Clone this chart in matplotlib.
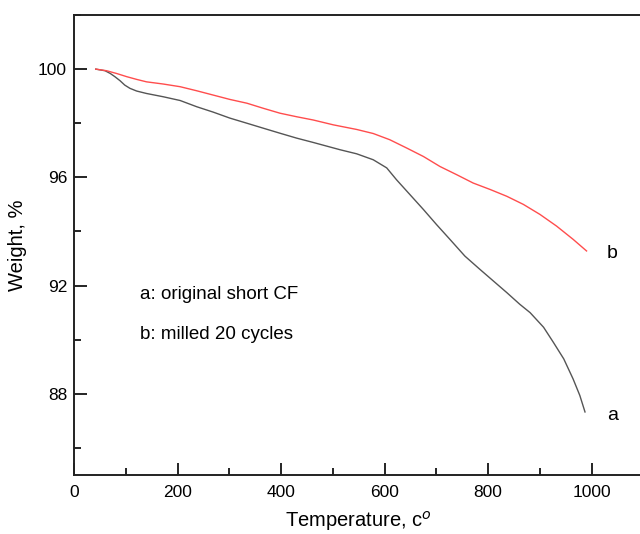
import matplotlib.pyplot as plt
from matplotlib.ticker import MultipleLocator

plt.rcParams['font.family'] = ['Liberation Sans', 'DejaVu Sans']

# curve a: original short CF
temp_a = [42, 60, 70, 79, 89, 98, 108, 121, 140, 172, 205, 237, 269, 301, 334,
          365, 398, 430, 462, 514, 546, 578, 604, 623, 649, 675, 700, 726, 755,
          784, 810, 836, 861, 881, 907, 926, 946, 964, 977, 987]
weight_a = [100.0, 99.94, 99.84, 99.72, 99.57, 99.41, 99.29, 99.19, 99.1, 98.98,
            98.84, 98.61, 98.41, 98.19, 98.0, 97.82, 97.63, 97.45, 97.29, 97.02,
            96.87, 96.65, 96.35, 95.91, 95.36, 94.81, 94.26, 93.71, 93.09, 92.6,
            92.17, 91.74, 91.31, 91.0, 90.46, 89.9, 89.29, 88.55, 87.94, 87.33]

# curve b: milled 20 cycles
temp_b = [42, 63, 82, 102, 121, 140, 172, 205, 237, 269, 301, 334, 366, 398,
          430, 462, 501, 546, 578, 610, 643, 675, 707, 739, 771, 804, 836, 868,
          900, 932, 964, 990]
weight_b = [100.0, 99.94, 99.84, 99.72, 99.62, 99.53, 99.45, 99.35, 99.2, 99.04,
            98.88, 98.74, 98.55, 98.37, 98.24, 98.12, 97.94, 97.77, 97.62, 97.39,
            97.08, 96.77, 96.4, 96.1, 95.79, 95.55, 95.3, 95.0, 94.63, 94.2,
            93.71, 93.28]

fig = plt.figure(figsize=(6.4, 5.34), dpi=100)
ax = fig.add_axes([74/640, 59/534, 569.5/640, 460/534])

ax.plot(temp_a, weight_a, color="#555555", linewidth=1.0)
ax.plot(temp_b, weight_b, color="#ff4d4d", linewidth=1.0)

ax.text(1040, 87.2, "a", fontsize=14, ha="center", va="center")
ax.text(1040, 93.2, "b", fontsize=14, ha="center", va="center")
ax.text(128, 91.68, "a: original short CF", fontsize=13.5, va="center")
ax.text(128, 90.21, "b: milled 20 cycles", fontsize=13.5, va="center")

ax.set_xlim(0, 1100)
ax.set_ylim(85, 102)
ax.xaxis.set_major_locator(MultipleLocator(200))
ax.xaxis.set_minor_locator(MultipleLocator(100))
ax.yaxis.set_major_locator(MultipleLocator(4))
ax.yaxis.set_minor_locator(MultipleLocator(2))
ax.set_yticks([88, 92, 96, 100])

ax.tick_params(which="major", direction="in", length=9, width=1.2, labelsize=12.5)
ax.tick_params(axis="x", which="major", pad=7)
ax.tick_params(axis="y", which="major", pad=5)
ax.tick_params(which="minor", direction="in", length=5, width=1.2)
for s in ax.spines.values():
    s.set_linewidth(1.4)
    s.set_color("#222222")

ax.set_xlabel("Temperature, c$^o$", fontsize=14.5, labelpad=7)
ax.set_ylabel("Weight, %", fontsize=14.5, labelpad=8)

fig.savefig("out.png", dpi=100)
